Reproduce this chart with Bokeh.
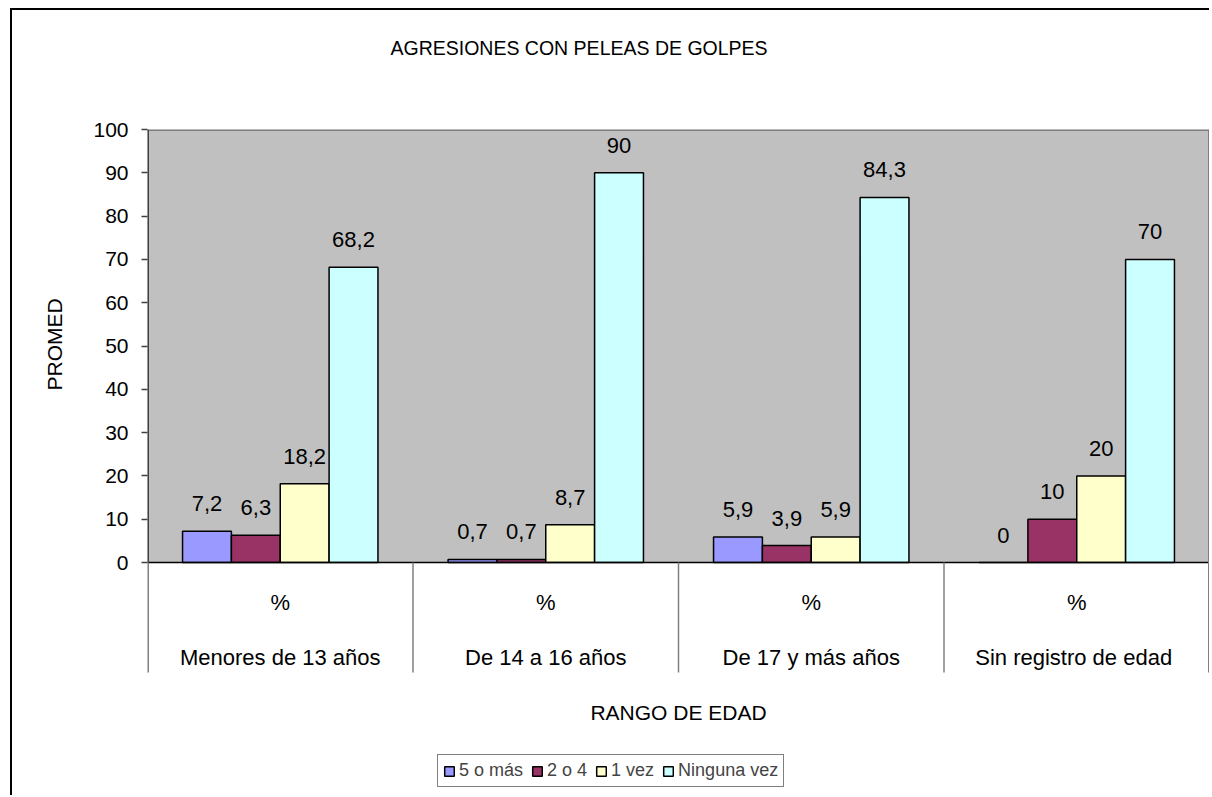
import numpy as np
from bokeh.plotting import figure
from bokeh.models import Range1d, FixedTicker, Legend, LegendItem, Title
from bokeh.core.properties import value
from bokeh.embed import file_html
from bokeh.resources import INLINE

# ---------------- data ----------------
groups = ["Menores de 13 años", "De 14 a 16 años", "De 17 y más años", "Sin registro de  edad"]
sub_label = "%"
series = ["5 o más", "2 o 4", "1 vez", "Ninguna vez"]
cinco_o_mas = [7.2, 0.7, 5.9, 0]
dos_o_cuatro = [6.3, 0.7, 3.9, 10]
una_vez = [18.2, 8.7, 5.9, 20]
ninguna_vez = [68.2, 90, 84.3, 70]
y_ticks = [0, 10, 20, 30, 40, 50, 60, 70, 80, 90, 100]
chart_title = "AGRESIONES CON PELEAS DE GOLPES"
x_title = "RANGO DE EDAD"
y_title = "PROMED"

values = [cinco_o_mas, dos_o_cuatro, una_vez, ninguna_vez]
colors = ["#9999FF", "#993366", "#FFFFCC", "#CCFFFF"]

FONT = "Liberation Sans"

# ---------------- layout constants ----------------
W, H = 1209, 795
LEFT, TOP = 147, 129
FRAME_W = W - LEFT
FRAME_H = H - TOP
PX_Y = 433 / 100.0           # pixels per y unit
y_top = max(y_ticks)
y_bot = y_top - FRAME_H / PX_Y

def y_at(px_below_zero):
    return -px_below_zero / PX_Y

SEP_BOTTOM = y_at(110)
ROW1 = y_at(40)
ROW2 = y_at(95)
XTITLE_Y = y_at(150)

p = figure(width=W, height=H, x_range=Range1d(0, len(groups)), y_range=Range1d(y_bot, y_top),
           output_backend="svg", toolbar_location=None,
           min_border_left=LEFT, min_border_right=0, min_border_top=TOP, min_border_bottom=0,
           x_axis_location=None, outline_line_color=None, title=chart_title,
           border_fill_color=None)
p.styles = {"box-shadow": "inset 10px 8px 0 0 white, inset 12px 10px 0 0 black"}
p.grid.visible = False

# spacer between frame and title (closest to the frame)
p.add_layout(Title(text=" ", text_font_size="10px", standoff=58), "above")

p.title.text_font = FONT
p.title.text_font_size = "19.5px"
p.title.text_font_style = "normal"
p.title.text_color = "black"
p.title.align = "left"
p.title.offset = 243
p.title.standoff = 0

ax = p.yaxis[0]
ax.ticker = FixedTicker(ticks=y_ticks)
ax.axis_line_color = None
ax.major_tick_out = 6
ax.major_tick_in = 0
ax.major_tick_line_color = "#404040"
ax.major_tick_line_width = 1.5
ax.minor_tick_line_color = None
ax.major_label_text_font = FONT
ax.major_label_text_font_size = "21px"
ax.major_label_standoff = 13
ax.major_label_text_color = "black"

# y title as a left-side title (reads bottom to top)
ytitle = Title(text=y_title, align="left", offset=405, text_font=FONT, text_font_size="21px",
               text_font_style="normal", text_color="black", standoff=50)
p.add_layout(ytitle, "left")

n = len(groups)
centers = np.arange(n) + 0.5

# plot area background
p.quad(left=0, right=n, bottom=0, top=y_top, fill_color="#C0C0C0", line_color=None)

# bars
bw = 0.184
renderers = []
for i, (name, vals, col) in enumerate(zip(series, values, colors)):
    xs = centers + (i - (len(series) - 1) / 2) * bw
    r = p.vbar(x=xs, top=vals, bottom=0, width=bw, fill_color=col, line_color="black", line_width=1.5)
    renderers.append((name, r))
    labels = [("%g" % v).replace(".", ",") for v in vals]
    p.text(x=xs, y=vals, text=labels, text_align="center", text_baseline="bottom", y_offset=-20,
           text_font=value(FONT), text_font_size="22px", text_color="black")

# axis/frame lines
p.segment(x0=[0], y0=[0], x1=[n], y1=[0], line_color="black", line_width=1.5)
p.segment(x0=[0], y0=[y_top], x1=[n], y1=[y_top], line_color="#808080", line_width=3)
p.segment(x0=[0], y0=[y_top], x1=[0], y1=[0], line_color="#404040", line_width=3)
p.segment(x0=[0], y0=[0], x1=[0], y1=[SEP_BOTTOM], line_color="#808080", line_width=3)
p.segment(x0=[n], y0=[y_top], x1=[n], y1=[SEP_BOTTOM], line_color="#808080", line_width=3)
p.segment(x0=list(range(1, n)), y0=[0] * (n - 1), x1=list(range(1, n)), y1=[SEP_BOTTOM] * (n - 1),
          line_color="#808080", line_width=1.5)

# category labels
p.text(x=centers, y=[ROW1] * n, text=[sub_label] * n, text_align="center", text_baseline="middle",
       text_font=value(FONT), text_font_size="22px", text_color="black")
p.text(x=centers, y=[ROW2] * n, text=groups, text_align="center", text_baseline="middle",
       text_font=value(FONT), text_font_size="22px", text_color="black")
p.text(x=[n / 2], y=[XTITLE_Y], text=[x_title], text_align="center", text_baseline="middle",
       text_font=value(FONT), text_font_size="21px", text_color="black")

legend = Legend(items=[LegendItem(label=nm, renderers=[r]) for nm, r in renderers],
                location=(290, 8), orientation="horizontal",
                border_line_color="black", border_line_width=1.5, background_fill_color="white",
                background_fill_alpha=1, glyph_width=12, glyph_height=12, label_standoff=4,
                spacing=8, padding=5, margin=0, label_text_font=FONT, label_text_font_size="18px",
                label_height=20)
p.add_layout(legend, "center")

open("out.html", "w").write(file_html(p, INLINE))
